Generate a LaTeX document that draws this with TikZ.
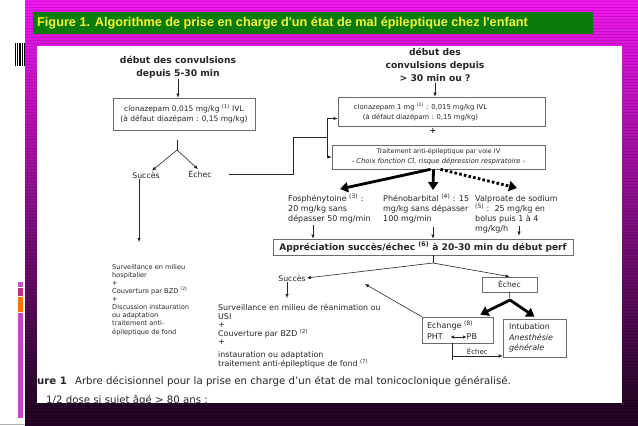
\documentclass[tikz,border=0pt]{standalone}
\usepackage{fontspec}
\setmainfont{DejaVu Sans}
\newfontfamily\titlefont{Liberation Sans}
\usetikzlibrary{arrows.meta,positioning,calc}
\definecolor{bandtop}{HTML}{F216F2}
\definecolor{bandmid}{HTML}{A3149F}
\definecolor{bandbot}{HTML}{1A061A}
\definecolor{titlegreen}{HTML}{0B7C0B}
\definecolor{titleyellow}{HTML}{F4F43A}
\definecolor{inkgray}{HTML}{262626}
\definecolor{boxgray}{HTML}{6A6A6A}

\begin{document}
\begin{tikzpicture}[
    x=1pt, y=-1pt,
    headtxt/.style={font=\fontsize{9.2}{13}\selectfont\bfseries, align=center, inner sep=1pt, text=inkgray},
    txt/.style={font=\fontsize{8}{10}\selectfont, align=left, inner sep=1pt, text=inkgray},
    labeltxt/.style={font=\fontsize{7.8}{10}\selectfont, inner sep=1pt, text=inkgray},
    listtxt/.style={font=\fontsize{6.6}{8.1}\selectfont, align=left, inner sep=1pt, text=inkgray},
    medbox/.style={rectangle, draw=boxgray, line width=0.7pt, align=center, font=\fontsize{6.4}{10}\selectfont, text=inkgray, inner sep=2pt},
    link/.style={draw=inkgray, line width=0.6pt},
    arrow/.style={link, -{Latex[length=4pt,width=3.5pt]}},
    bigarrow/.style={draw=black, line width=2.8pt, -{Triangle[length=8pt,width=10pt]}},
    dotarrow/.style={bigarrow, dash pattern=on 2.6pt off 2.2pt},
    captxt/.style={font=\fontsize{10.2}{12}\selectfont, inner sep=0pt, text=black!85}
]
    % slide frame
    \useasboundingbox (0,0) rectangle (638,426);
    \shade[top color=bandtop, middle color=bandmid, bottom color=bandbot] (25,0) rectangle (638,426);
    \foreach \y in {1,4,...,424} \draw[black, opacity=0.14, line width=1pt] (25,\y) -- (638,\y);
    \fill[white] (37,46) rectangle (622,403);
    \fill[titlegreen] (33,12) rectangle (593,34);
    \node[anchor=west, font=\titlefont\fontsize{12.7}{14}\selectfont\bfseries, text=titleyellow, inner sep=0pt] (title) at (37,23.5) {Figure 1. Algorithme de prise en charge d'un état de mal épileptique chez l'enfant};
    \foreach \x in {15.6,17.4,19.2,20.6,22.4,24} \draw[black, line width=0.9pt] (\x,43) -- (\x,66);
    \fill[violet!60!magenta!70] (18,282) rectangle (23,287);
    \fill[magenta!60!violet] (18,288) rectangle (23,296);
    \fill[orange!90!red] (18,297) rectangle (23,312);
    \fill[violet!55!magenta!75] (18,313) rectangle (23,418);

    % left branch
    \node [headtxt] (start1) at (178,67) {début des convulsions\\depuis 5-30 min};
    \node [medbox, font=\fontsize{7.5}{10}\selectfont, minimum width=142pt, minimum height=32pt] (clona1) at (184,114) {clonazepam 0,015 mg/kg \textsuperscript{(1)} IVL\\(à défaut diazépam : 0,15 mg/kg)};
    \coordinate (fork1top) at (177,140);
    \coordinate (fork1) at (177,150);
    \node [labeltxt] (succes1) at (146,175) {Succès};
    \node [labeltxt] (echec1) at (200,174) {Échec};
    \coordinate (surv1in) at (139,242);
    \node [listtxt, anchor=north west] (surv1) at (111,263) {Surveillance en milieu\\hospitalier\\+\\Couverture par BZD \textsuperscript{(2)}\\+\\Discussion instauration\\ou adaptation\\traitement anti-\\épileptique de fond};

    % right branch
    \node [headtxt] (start2) at (435,65) {début des\\convulsions depuis\\> 30 min ou ?};
    \node [medbox, font=\fontsize{6.8}{10}\selectfont, minimum width=207pt, minimum height=29pt] (clona2) at (441.5,111.5) {clonazepam 1 mg \textsuperscript{(1)} : 0,015 mg/kg IVL\hspace*{42pt}\\(à défaut diazépam : 0,15 mg/kg)\hspace*{42pt}};
    \node [labeltxt] (plus) at (433,131) {\textbf{+}};
    \node [medbox, minimum width=213pt, minimum height=24pt] (anti) at (438.5,157) {Traitement anti-épileptique par voie IV\\\fontsize{6.8}{10}\selectfont\textit{- Choix fonction CI, risque dépression respiratoire -}};
    \coordinate (elbow) at (293,137);
    \coordinate (bus) at (327,137);

    \coordinate (fosin) at (340,189);
    \coordinate (phenoin) at (433,190);
    \coordinate (valpin) at (517,188);
    \node [txt, anchor=north west] (fos) at (287,193) {Fosphénytoine \textsuperscript{(3)} :\\20 mg/kg sans\\dépasser 50 mg/min};
    \node [txt, anchor=north west] (pheno) at (382,193) {Phénobarbital \textsuperscript{(4)} : 15\\mg/kg sans dépasser\\100 mg/min};
    \node [txt, anchor=north west] (valp) at (474,194) {Valproate de sodium\\\textsuperscript{(5)} :\ \ 25 mg/kg en\\bolus puis 1 à 4\\mg/kg/h};
    \coordinate (fosout) at (313,225);
    \coordinate (phenoout) at (433,227);
    \coordinate (valpout) at (519,226);

    \node [medbox, font=\fontsize{9.1}{10}\selectfont\bfseries, minimum width=300pt, minimum height=16pt] (appr) at (423,247) {Appréciation succès/échec \textsuperscript{(6)} à 20-30 min du début perf};
    \coordinate (fork2) at (433,263);
    \node [labeltxt] (succes2) at (292,278) {Succès};
    \node [medbox, font=\fontsize{7.6}{10}\selectfont, minimum width=55pt, minimum height=15pt] (echec2) at (509.5,284.5) {Échec};
    \coordinate (succ2in) at (365,284);
    \coordinate (surv2in) at (287,298);
    \node [listtxt, font=\fontsize{7.9}{8.5}\selectfont, anchor=north west] (surv2) at (217,303) {Surveillance en milieu de réanimation ou\\USI\\+\\Couverture par BZD \textsuperscript{(2)}\\+\\[4pt]instauration ou adaptation\\traitement anti-épileptique de fond \textsuperscript{(7)}};

    \coordinate (fork3) at (510,300);
    \node [medbox, font=\fontsize{8}{11}\selectfont, text width=61pt, align=left, minimum height=26pt, inner xsep=5pt] (echange) at (457.5,330) {Echange \textsuperscript{(8)}\\PHT\hspace{24pt}PB};
    \node [medbox, font=\fontsize{8}{10.5}\selectfont, text width=51pt, align=left, minimum height=38pt, inner xsep=6pt] (intub) at (534.5,338) {Intubation\\\textit{Anesthésie}\\\textit{générale}};
    \coordinate (fork4) at (452,356);

    % connectors
    \draw [arrow] (start1.south) -- (start1.south |- clona1.north);
    \draw [link] (fork1top) -- (fork1);
    \draw [arrow] (fork1) -- ([xshift=6pt]succes1.north);
    \draw [arrow] (fork1) -- ([xshift=-2pt]echec1.north);
    \draw [arrow] (succes1.south -| surv1in) -- (surv1in);
    \draw [link] ([xshift=16pt]echec1.east) -| (elbow) -- (bus);
    \draw [arrow] (bus) |- ([yshift=-7pt]clona2.west);
    \draw [arrow] (bus) |- (anti.west);
    \draw [arrow] (start2.south) -- (start2.south |- clona2.north);

    \draw [bigarrow] ([xshift=-8pt]anti.south) -- (fosin);
    \draw [bigarrow] ([xshift=-5pt]anti.south) -- (phenoin);
    \draw [dotarrow] ([xshift=2pt]anti.south) -- (valpin);
    \draw [arrow] (fosout) -- (fosout |- appr.north);
    \draw [arrow] (phenoout) -- (phenoout |- appr.north);
    \draw [arrow] (valpout) -- ([yshift=3pt]valpout |- appr.north);

    \draw [link] (fork2 |- appr.south) -- (fork2);
    \draw [arrow] (fork2) -- (succes2.east);
    \draw [arrow] (fork2) -- (echec2.north);
    \draw [arrow] (echange.north west) -- (succ2in);
    \draw [arrow] (succes2.south -| surv2in) -- (surv2in);
    \draw [link] (echec2.south) -- (fork3);
    \draw [bigarrow] (fork3) -- ([xshift=-13pt,yshift=2pt]echange.north east);
    \draw [bigarrow] (fork3) -- ([yshift=2pt]intub.north);
    \draw [link, {Latex[length=3.5pt,width=3.5pt]}-{Latex[length=3.5pt,width=3.5pt]}] ($(echange.center)+(-7,7)$) -- ($(echange.center)+(9,7)$);
    \draw [link] (fork4 |- echange.south) -- ([yshift=-4pt]fork4);
    \draw [arrow] (fork4) -- (fork4 -| intub.west) node [labeltxt, font=\fontsize{7}{8}\selectfont, midway, above] {Échec};

    % caption, cut by the lower band
    \node [captxt, anchor=west] (cap1) at (37,381) {\textbf{ure 1}\hspace{8pt}Arbre décisionnel pour la prise en charge d’un état de mal tonicoclonique généralisé.};
    \node [captxt, anchor=west] (cap2) at (46,400) {1/2 dose si sujet âgé > 80 ans ;};
    \fill[bandbot] (25,403) rectangle (638,426);
    \foreach \y in {404,407,...,425} \draw[violet!40!black, line width=0.8pt] (25,\y) -- (638,\y);
    \fill[violet!55!magenta!75] (18,403) rectangle (23,418);
    \draw[black!30, line width=1pt] (0,424.5) -- (25,424.5);
\end{tikzpicture}
\end{document}
